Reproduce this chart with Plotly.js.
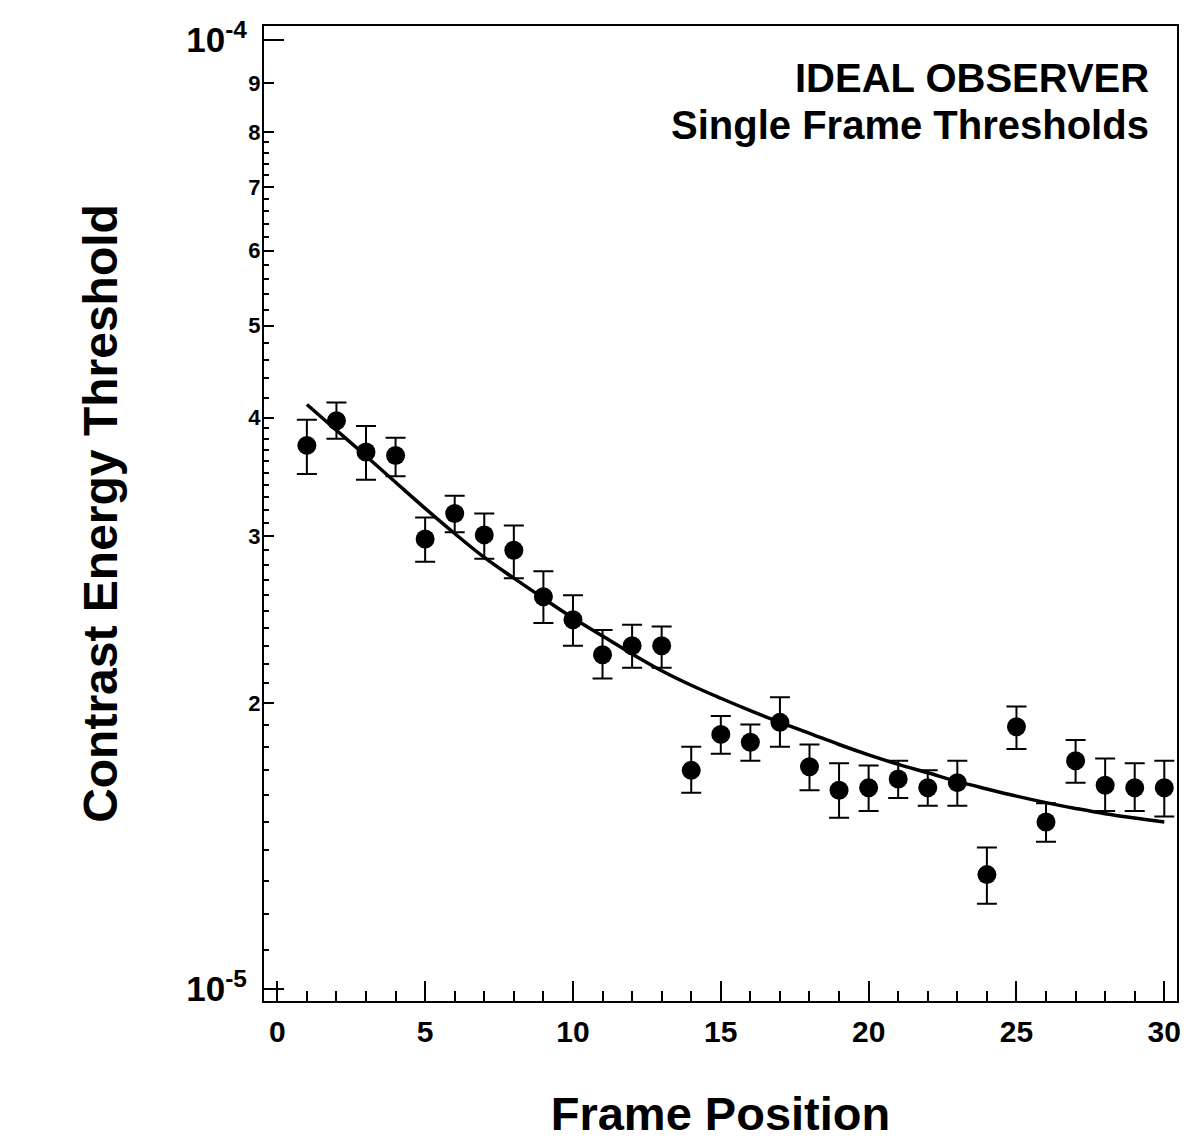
<!DOCTYPE html>
<html>
<head>
<meta charset="utf-8">
<script src="https://cdn.plot.ly/plotly-3.0.1.min.js"></script>
<style>html,body{margin:0;padding:0;background:#fff;}#chart{width:1194px;height:1145px;}</style>
</head>
<body>
<div id="chart"></div>
<script>
// Values are in units of 1e-5 (contrast energy)
const UNIT = 1e-5;
const framePosition = [1,2,3,4,5,6,7,8,9,10,11,12,13,14,15,16,17,18,19,20,21,22,23,24,25,26,27,28,29,30];
const threshold = [3.74,3.97,3.68,3.65,2.98,3.17,3.01,2.90,2.59,2.45,2.25,2.30,2.30,1.70,1.855,1.82,1.91,1.715,1.62,1.63,1.665,1.63,1.65,1.32,1.89,1.50,1.74,1.64,1.63,1.63];
const errUpper = [3.98,4.15,3.92,3.81,3.14,3.31,3.17,3.08,2.755,2.60,2.39,2.42,2.41,1.80,1.94,1.90,2.03,1.81,1.73,1.72,1.74,1.70,1.74,1.41,1.985,1.57,1.83,1.75,1.73,1.74];
const errLower = [3.49,3.80,3.44,3.47,2.82,3.03,2.84,2.71,2.43,2.30,2.125,2.18,2.18,1.61,1.77,1.74,1.80,1.62,1.515,1.54,1.59,1.56,1.56,1.23,1.79,1.43,1.65,1.54,1.54,1.52];
const fitX = [1,2,3,4,5,6,7,8,9,10,11,12,13,14,15,16,17,18,19,20,21,22,23,24,25,26,27,28,29,30];
const fitY = [4.13,3.88,3.645,3.42,3.21,3.02,2.85,2.71,2.58,2.46,2.355,2.255,2.165,2.09,2.025,1.965,1.91,1.86,1.81,1.765,1.725,1.69,1.655,1.625,1.597,1.572,1.55,1.53,1.514,1.50];
const yDigitTicks = [2,3,4,5,6,7,8,9];
const yDigitLabels = ['2','3','4','5','6','7','8','9'];
const yMinorTicks = [1.1,1.2,1.3,1.4,1.5,1.6,1.7,1.8,1.9,2.1,2.2,2.3,2.4,2.5,2.6,2.7,2.8,2.9,3.1,3.2,3.3,3.4,3.5,3.6,3.7,3.8,3.9,4.2,4.4,4.6,4.8,5.2,5.4,5.6,5.8,6.2,6.4,6.6,6.8,7.2,7.4,7.6,7.8];
const yDecadeTicks = [1,10];
const yDecadeLabels = ['10<sup>-5</sup>','10<sup>-4</sup>'];
const annotationLines = ['IDEAL OBSERVER','Single Frame Thresholds'];

const s = v => v*UNIT;
const FONT = 'Liberation Sans, Arial, Helvetica, sans-serif';
const yRange = [Math.log10(s(0.9714)), Math.log10(s(10.347))];

const data = [
  {
    x: fitX, y: fitY.map(s), type: 'scatter', mode: 'lines',
    line: {color: '#000', width: 3.5, shape: 'spline', smoothing: 1}, hoverinfo: 'skip', showlegend: false
  },
  {
    x: framePosition, y: threshold.map(s), type: 'scatter', mode: 'markers',
    marker: {color: '#000', size: 19, symbol: 'circle'},
    error_y: {
      type: 'data', symmetric: false,
      array: errUpper.map((u,i)=>s(u - threshold[i])),
      arrayminus: errLower.map((l,i)=>s(threshold[i] - l)),
      color: '#000', thickness: 2, width: 10
    },
    showlegend: false
  },
  {
    x: [framePosition[0]], y: [s(threshold[0])], yaxis: 'y2', type: 'scatter', mode: 'markers',
    marker: {opacity: 0}, hoverinfo: 'skip', showlegend: false
  }
];

const layout = {
  width: 1194, height: 1145,
  margin: {l: 264, r: 17, t: 26, b: 144},
  paper_bgcolor: '#fff', plot_bgcolor: '#fff',
  font: {family: FONT, color: '#000'},
  showlegend: false,
  xaxis: {
    range: [-0.45, 30.43],
    tickmode: 'linear', tick0: 0, dtick: 5,
    ticks: 'inside', ticklen: 20, tickwidth: 2, tickcolor: '#000',
    minor: {dtick: 1, tick0: 0, ticks: 'inside', ticklen: 10, tickwidth: 2, tickcolor: '#000'},
    showline: true, mirror: true, linecolor: '#000', linewidth: 2,
    showgrid: false, zeroline: false,
    tickfont: {family: FONT, size: 30, weight: 'bold', color: '#000'},
    ticklabelstandoff: 3,
    title: {text: 'Frame Position', font: {family: FONT, size: 47, weight: 'bold', color: '#000'}, standoff: 50}
  },
  yaxis: {
    type: 'log', range: yRange,
    tickmode: 'array', tickvals: yDigitTicks.map(s), ticktext: yDigitLabels,
    ticks: 'inside', ticklen: 10, tickwidth: 2, tickcolor: '#000',
    minor: {tickmode: 'array', tickvals: yMinorTicks.map(s), ticks: 'inside', ticklen: 5, tickwidth: 2, tickcolor: '#000'},
    showline: true, mirror: true, linecolor: '#000', linewidth: 2,
    showgrid: false, zeroline: false,
    tickfont: {family: FONT, size: 22, weight: 'bold', color: '#000'},
    ticklabelstandoff: -3,
    title: {text: 'Contrast Energy Threshold', font: {family: FONT, size: 48, weight: 'bold', color: '#000'}, standoff: 116}
  },
  yaxis2: {
    type: 'log', range: yRange, overlaying: 'y', side: 'left', anchor: 'x',
    tickmode: 'array', tickvals: yDecadeTicks.map(s), ticktext: yDecadeLabels,
    ticks: 'inside', ticklen: 20, tickwidth: 2, tickcolor: '#000',
    showline: false, showgrid: false, zeroline: false,
    tickfont: {family: FONT, size: 35, weight: 'bold', color: '#000'},
    ticklabelstandoff: 16
  },
  annotations: [
    {xref: 'paper', yref: 'paper', x: 0.971, y: 0.9467, xanchor: 'right', yanchor: 'middle', showarrow: false,
     text: annotationLines[0], font: {family: FONT, size: 40, weight: 'bold', color: '#000'}},
    {xref: 'paper', yref: 'paper', x: 0.971, y: 0.8985, xanchor: 'right', yanchor: 'middle', showarrow: false,
     text: annotationLines[1], font: {family: FONT, size: 40, weight: 'bold', color: '#000'}}
  ]
};

Plotly.newPlot('chart', data, layout, {displayModeBar: false, staticPlot: true});
</script>
</body>
</html>
